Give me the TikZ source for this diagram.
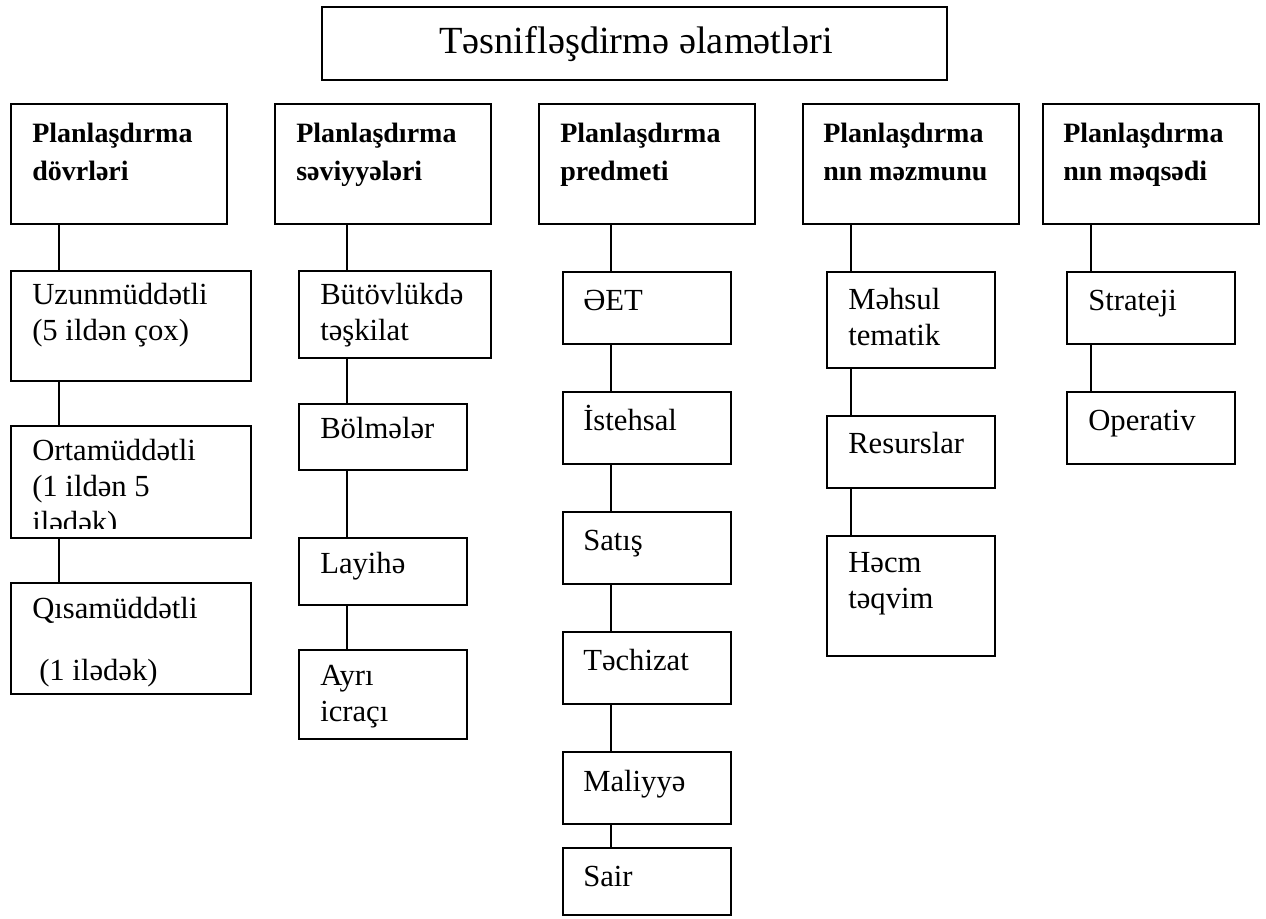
\documentclass[tikz,border=0pt]{standalone}
\usepackage{fontspec}
\setmainfont{Liberation Serif}
\newcommand{\boxlines}[1]{\begin{tabular}[t]{@{}l@{}}#1\end{tabular}}
\newcommand{\mkbox}[5]{\node[box, minimum width={(#4-#2)*0.75pt}, minimum height={(#5-#3)*0.75pt}] (#1) at (#2,#3) {};}
\begin{document}
\begin{tikzpicture}[x=0.75pt,y=-0.75pt,
  box/.style={draw, line width=1.2pt, rectangle, inner sep=0pt, outer sep=0pt, anchor=north west},
  link/.style={line width=0.9pt},
  txt/.style={anchor=base west, inner sep=0pt, font=\fontsize{23}{27}\selectfont},
  head/.style={anchor=base west, inner sep=0pt, font=\fontsize{21}{28.5}\selectfont\bfseries},
  ttl/.style={anchor=base, inner sep=0pt, font=\fontsize{28.8}{34}\selectfont}]
\useasboundingbox (0,0) rectangle (1266,918);

% boxes
\mkbox{title}{322}{7}{947}{80}
\mkbox{h1}{11}{104}{227}{224}
\mkbox{h2}{275}{104}{491}{224}
\mkbox{h3}{539}{104}{755}{224}
\mkbox{h4}{803}{104}{1019}{224}
\mkbox{h5}{1043}{104}{1259}{224}

\mkbox{u1}{11}{271}{251}{381}
\mkbox{u2}{11}{426}{251}{538}
\mkbox{u3}{11}{583}{251}{694}

\mkbox{b1}{299}{271}{491}{358}
\mkbox{b2}{299}{404}{467}{470}
\mkbox{b3}{299}{538}{467}{605}
\mkbox{b4}{299}{650}{467}{739}

\mkbox{p1}{563}{272}{731}{344}
\mkbox{p2}{563}{392}{731}{464}
\mkbox{p3}{563}{512}{731}{584}
\mkbox{p4}{563}{632}{731}{704}
\mkbox{p5}{563}{752}{731}{824}
\mkbox{p6}{563}{848}{731}{915}

\mkbox{m1}{827}{272}{995}{368}
\mkbox{m2}{827}{416}{995}{488}
\mkbox{m3}{827}{536}{995}{656}

\mkbox{s1}{1067}{272}{1235}{344}
\mkbox{s2}{1067}{392}{1235}{464}

% connector columns
\coordinate (c1) at (59,0);
\coordinate (c2) at (347,0);
\coordinate (c3) at (611,0);
\coordinate (c4) at (851,0);
\coordinate (c5) at (1091,0);

\draw[link] (h1.south -| c1) -- (u1.north -| c1);
\draw[link] (u1.south -| c1) -- (u2.north -| c1);
\draw[link] (u2.south -| c1) -- (u3.north -| c1);

\draw[link] (h2.south -| c2) -- (b1.north -| c2);
\draw[link] (b1.south -| c2) -- (b2.north -| c2);
\draw[link] (b2.south -| c2) -- (b3.north -| c2);
\draw[link] (b3.south -| c2) -- (b4.north -| c2);

\draw[link] (h3.south -| c3) -- (p1.north -| c3);
\draw[link] (p1.south -| c3) -- (p2.north -| c3);
\draw[link] (p2.south -| c3) -- (p3.north -| c3);
\draw[link] (p3.south -| c3) -- (p4.north -| c3);
\draw[link] (p4.south -| c3) -- (p5.north -| c3);
\draw[link] (p5.south -| c3) -- (p6.north -| c3);

\draw[link] (h4.south -| c4) -- (m1.north -| c4);
\draw[link] (m1.south -| c4) -- (m2.north -| c4);
\draw[link] (m2.south -| c4) -- (m3.north -| c4);

\draw[link] (h5.south -| c5) -- (s1.north -| c5);
\draw[link] (s1.south -| c5) -- (s2.north -| c5);

% texts
\node[ttl] (title-t) at (636,53) {Təsnifləşdirmə əlamətləri};

\node[head] (h1-t) at (32,142) {\boxlines{Planlaşdırma\\dövrləri}};
\node[head] (h2-t) at (296,142) {\boxlines{Planlaşdırma\\səviyyələri}};
\node[head] (h3-t) at (560,142) {\boxlines{Planlaşdırma\\predmeti}};
\node[head] (h4-t) at (823,142) {\boxlines{Planlaşdırma\\nın məzmunu}};
\node[head] (h5-t) at (1063,142) {\boxlines{Planlaşdırma\\nın məqsədi}};

\node[txt] (u1-t) at (32,304) {\boxlines{Uzunmüddətli\\(5 ildən çox)}};
\begin{scope}
  \clip (11,426) rectangle (251,528);
  \node[txt] (u2-t) at (32,460) {\boxlines{Ortamüddətli\\(1 ildən 5\\ilədək)}};
\end{scope}
\node[txt] (u3-t) at (32,618) {Qısamüddətli};
\node[txt] (u3-t2) at (39,680) {(1 ilədək)};

\node[txt] (b1-t) at (320,304) {\boxlines{Bütövlükdə\\təşkilat}};
\node[txt] (b2-t) at (320,438) {Bölmələr};
\node[txt] (b3-t) at (320,573) {Layihə};
\node[txt] (b4-t) at (320,685) {\boxlines{Ayrı\\icraçı}};

\node[txt] (p1-t) at (583,310) {ƏET};
\node[txt] (p2-t) at (583,430) {İstehsal};
\node[txt] (p3-t) at (583,550) {Satış};
\node[txt] (p4-t) at (583,670) {Təchizat};
\node[txt] (p5-t) at (583,791) {Maliyyə};
\node[txt] (p6-t) at (583,886) {Sair};

\node[txt] (m1-t) at (848,309) {\boxlines{Məhsul\\tematik}};
\node[txt] (m2-t) at (848,453) {Resurslar};
\node[txt] (m3-t) at (848,572) {\boxlines{Həcm\\təqvim}};

\node[txt] (s1-t) at (1088,310) {Strateji};
\node[txt] (s2-t) at (1088,430) {Operativ};
\end{tikzpicture}
\end{document}
